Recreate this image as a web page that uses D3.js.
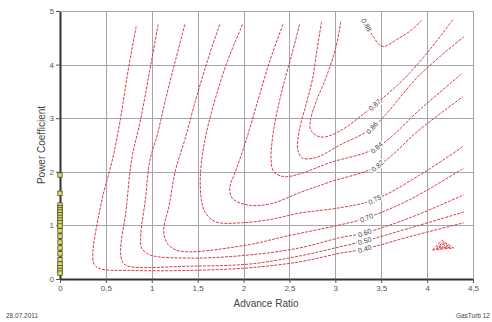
<!DOCTYPE html>
<html><head><meta charset="utf-8">
<script src="https://cdn.jsdelivr.net/npm/d3@7"></script>
<style>
html,body{margin:0;padding:0;background:#fff;}
svg{display:block;font-family:"Liberation Sans",Arial,sans-serif;}
</style></head><body>
<svg id="chart" width="492" height="322"></svg>
<script>
// Axis ticks
const xTicks = [0, 0.5, 1, 1.5, 2, 2.5, 3, 3.5, 4, 4.5];
const yTicks = [0, 1, 2, 3, 4, 5];

// Efficiency contour lines, points as [advance ratio, power coefficient]
const eta040 = [[0.83,4.71],[0.74,3.87],[0.66,3.00],[0.57,2.22],[0.47,1.57],[0.40,0.99],[0.36,0.54],[0.37,0.28],[0.44,0.19],[0.76,0.16],[1.42,0.16],[2.07,0.21],[2.61,0.32],[3.05,0.48],[3.32,0.56],[3.81,0.79],[4.40,1.05]];
const eta050 = [[1.07,4.75],[0.98,3.91],[0.88,2.99],[0.78,2.22],[0.72,1.29],[0.66,0.54],[0.68,0.32],[0.74,0.24],[1.42,0.24],[2.07,0.28],[2.61,0.43],[3.05,0.60],[3.32,0.71],[3.81,0.95],[4.40,1.25]];
const eta060 = [[1.36,4.75],[1.26,4.09],[1.15,3.35],[1.06,2.69],[0.98,2.22],[0.93,1.48],[0.88,0.82],[0.89,0.58],[0.98,0.45],[1.42,0.39],[2.07,0.45],[2.61,0.58],[3.05,0.77],[3.32,0.86],[3.81,1.14],[4.40,1.57]];
const eta070 = [[1.74,4.75],[1.61,4.09],[1.48,3.35],[1.36,2.60],[1.26,2.04],[1.19,1.38],[1.13,0.88],[1.18,0.64],[1.31,0.52],[1.99,0.62],[2.47,0.80],[3.05,1.01],[3.34,1.14],[3.81,1.48],[4.40,2.07]];
const eta075 = [[1.99,4.75],[1.83,4.09],[1.69,3.35],[1.58,2.60],[1.53,1.94],[1.54,1.48],[1.58,1.25],[1.69,1.07],[1.99,1.05],[2.32,1.12],[2.61,1.23],[3.05,1.33],[3.43,1.48],[3.92,1.94],[4.39,2.47]];
const eta082 = [[2.43,4.75],[2.29,4.09],[2.16,3.35],[2.03,2.60],[1.92,2.04],[1.85,1.70],[1.88,1.50],[2.05,1.38],[2.29,1.40],[2.61,1.61],[2.94,1.81],[3.46,2.11],[3.92,2.79],[4.39,3.40]];
const eta084 = [[2.61,4.75],[2.54,4.28],[2.45,3.72],[2.37,3.16],[2.32,2.69],[2.30,2.22],[2.33,2.00],[2.44,1.91],[2.61,1.96],[2.94,2.17],[3.45,2.45],[3.92,3.16],[4.39,3.85]];
const eta086 = [[2.85,4.80],[2.80,4.28],[2.75,3.72],[2.68,3.25],[2.61,2.79],[2.59,2.41],[2.64,2.26],[2.78,2.26],[3.05,2.50],[3.40,2.82],[3.92,3.81],[4.40,4.52]];
const eta087 = [[3.06,4.80],[3.00,4.28],[2.89,3.72],[2.80,3.35],[2.73,2.97],[2.73,2.79],[2.80,2.67],[2.89,2.65],[3.08,2.79],[3.27,3.03],[3.43,3.25],[3.74,3.72],[4.03,4.28],[4.28,4.84]];
const eta088 = [[3.32,4.80],[3.40,4.56],[3.51,4.34],[3.70,4.50],[3.81,4.62],[3.94,4.82]];

// Small closed island near the lower right
const islandA = [[4.06,0.54],[4.16,0.72],[4.29,0.58],[4.06,0.54]];
const islandB = [[4.10,0.57],[4.17,0.68],[4.25,0.59],[4.10,0.57]];
const islandC = [[4.13,0.59],[4.17,0.65],[4.22,0.60],[4.13,0.59]];

const levelNames = ["0.40","0.50","0.60","0.70","0.75","0.82","0.84","0.86","0.87","0.88"];
const levelLines = [eta040, eta050, eta060, eta070, eta075, eta082, eta084, eta086, eta087, eta088];
const labelX = [3.32, 3.32, 3.32, 3.34, 3.43, 3.46, 3.45, 3.40, 3.43, 3.34];

// Measured points on the power coefficient axis
const measuredCp = [1.94, 1.60, 1.38, 1.33, 1.29, 1.25, 1.20, 1.15, 1.10, 1.05, 0.99, 0.90, 0.80, 0.69, 0.58, 0.47, 0.36, 0.28, 0.21, 0.16, 0.11];

const svg = d3.select("#chart");
const x = d3.scaleLinear().domain([0, 4.5]).range([60, 473]);
const y = d3.scaleLinear().domain([0, 5]).range([279, 11]);

// grid
const grid = svg.append("g").attr("stroke", "#a6a6a6").attr("stroke-width", 1);
grid.selectAll("line.v").data(xTicks.slice(1)).join("line").attr("class", "v")
  .attr("x1", d => Math.round(x(d)) + 0.5).attr("x2", d => Math.round(x(d)) + 0.5)
  .attr("y1", y(0)).attr("y2", y(5));
grid.selectAll("line.h").data(yTicks.slice(1)).join("line").attr("class", "h")
  .attr("y1", d => Math.round(y(d)) + 0.5).attr("y2", d => Math.round(y(d)) + 0.5)
  .attr("x1", x(0)).attr("x2", x(4.5));

// contour lines
const line = d3.line().x(d => x(d[0])).y(d => y(d[1])).curve(d3.curveCatmullRom.alpha(0.5));
const contours = svg.append("g").attr("fill", "none").attr("stroke", "#d63f45")
  .attr("stroke-width", 1).attr("stroke-dasharray", "3,1.2");
contours.selectAll("path.lvl").data(levelLines).join("path").attr("class", "lvl").attr("d", line);
const loop = d3.line().x(d => x(d[0])).y(d => y(d[1])).curve(d3.curveLinearClosed);
contours.selectAll("path.isl").data([islandA, islandB, islandC]).join("path")
  .attr("class", "isl").attr("d", d => loop(d.slice(0, -1)));

// contour labels placed on each line
function placeOn(pts, xv) {
  for (let i = pts.length - 2; i >= 0; i--) {
    const a = pts[i], b = pts[i + 1];
    if (xv >= Math.min(a[0], b[0]) && xv <= Math.max(a[0], b[0])) {
      const t = (xv - a[0]) / (b[0] - a[0] || 1);
      const yv = a[1] + t * (b[1] - a[1]);
      let ang = Math.atan2(y(b[1]) - y(a[1]), x(b[0]) - x(a[0])) * 180 / Math.PI;
      if (ang > 90) ang -= 180;
      if (ang < -90) ang += 180;
      return [x(xv), y(yv), ang];
    }
  }
  return [x(xv), y(pts[0][1]), 0];
}
const labels = svg.append("g").attr("font-size", 7).attr("fill", "#444")
  .attr("text-anchor", "middle");
levelLines.forEach((pts, i) => {
  const [px, py, ang] = placeOn(pts, labelX[i]);
  labels.append("text").attr("transform", `translate(${px},${py}) rotate(${ang})`)
    .attr("dy", "0.35em").attr("stroke", "#fff").attr("stroke-width", 3)
    .attr("paint-order", "stroke").text(levelNames[i]);
});

// axes
const fmt = d => String(d).replace(".", ",");
const gx = svg.append("g").attr("transform", `translate(0,${y(0)})`)
  .call(d3.axisBottom(x).tickValues(xTicks).tickFormat(fmt).tickSize(4).tickSizeOuter(0).tickPadding(2));
const gy = svg.append("g").attr("transform", `translate(${x(0)},0)`)
  .call(d3.axisLeft(y).tickValues(yTicks).tickFormat(fmt).tickSize(4).tickSizeOuter(0).tickPadding(2));
[gx, gy].forEach(g => {
  g.select(".domain").attr("stroke", "#333").attr("stroke-width", 2);
  g.selectAll(".tick line").attr("stroke", "#555");
  g.selectAll(".tick text").attr("fill", "#555").attr("font-size", 8)
    .attr("font-family", "Liberation Sans, Arial, sans-serif");
});
// frame top and right
svg.append("path").attr("fill", "none").attr("stroke", "#a6a6a6")
  .attr("d", `M${x(0)},${Math.round(y(5)) + 0.5}H${Math.round(x(4.5)) + 0.5}V${y(0)}`);

// measured points
svg.append("g").selectAll("rect").data(measuredCp).join("rect")
  .attr("x", x(0) - 2.2).attr("y", d => y(d) - 2.2).attr("width", 4.4).attr("height", 4.4)
  .attr("fill", "#dede68").attr("stroke", "#4a4a2a").attr("stroke-width", 0.8);

// titles
svg.append("text").attr("x", 266).attr("y", 307).attr("text-anchor", "middle")
  .attr("font-size", 10).attr("fill", "#444").text("Advance Ratio");
svg.append("text").attr("transform", "translate(45,145) rotate(-90)").attr("text-anchor", "middle")
  .attr("font-size", 10).attr("fill", "#444").text("Power Coefficient");
svg.append("text").attr("x", 6).attr("y", 318).attr("font-size", 6.5).attr("fill", "#444").text("28.07.2011");
svg.append("text").attr("x", 490).attr("y", 318).attr("text-anchor", "end")
  .attr("font-size", 6.5).attr("fill", "#444").text("GasTurb 12");
</script>
</body></html>
